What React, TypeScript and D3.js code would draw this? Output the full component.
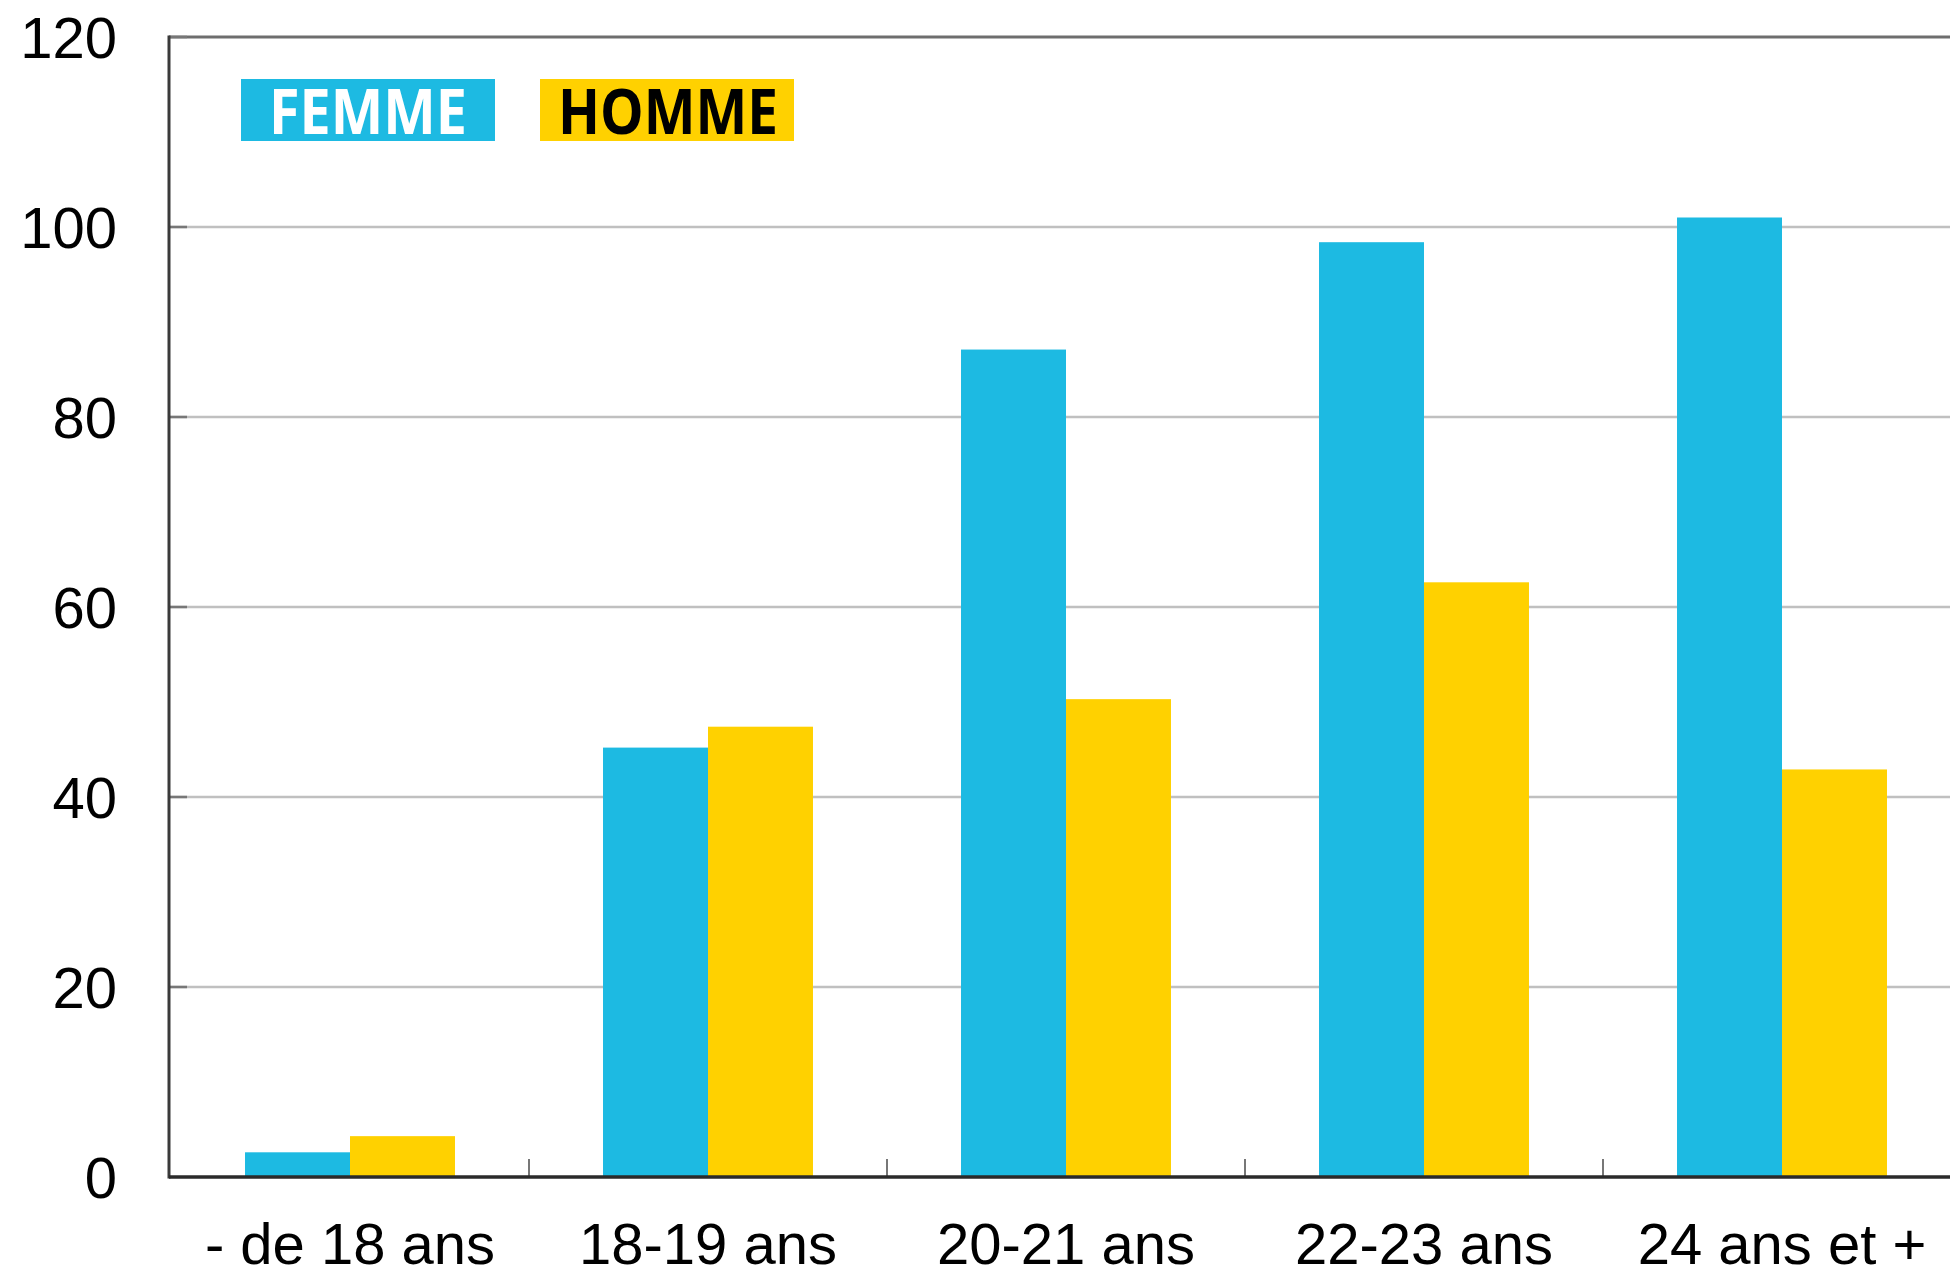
import React from "react";
import * as d3 from "d3";

const categories = ["- de 18 ans", "18-19 ans", "20-21 ans", "22-23 ans", "24 ans et +"];
const seriesNames = ["FEMME", "HOMME"];
const femme = [2.6, 45.2, 87.1, 98.4, 101.0];
const homme = [4.3, 47.4, 50.3, 62.6, 42.9];
const yTicks = [0, 20, 40, 60, 80, 100, 120];

const W = 1950;
const H = 1275;
const left = 169;
const step = 358;
const top = 37;
const bottom = 1177;
const BLUE = "#1DBAE2";
const YELLOW = "#FFD100";

export default function App() {
  const x0 = d3.scaleBand<string>().domain(categories).range([left + 2, left + 2 + step * categories.length]).paddingInner(0).paddingOuter(0);
  const x1 = d3.scaleBand<string>().domain(seriesNames).range([0, x0.bandwidth()]).paddingInner(0).paddingOuter(0.705);
  const y = d3.scaleLinear().domain([0, 120]).range([bottom, top]);
  const colors: Record<string, string> = { FEMME: BLUE, HOMME: YELLOW };
  const values: Record<string, number[]> = { FEMME: femme, HOMME: homme };
  const font = "'Liberation Sans', Arial, sans-serif";

  return (
    <svg width={W} height={H} style={{ position: "absolute", left: 0, top: 0, background: "#fff" }}>
      {yTicks.filter((t) => t > 0 && t < 120).map((t) => (
        <line key={"g" + t} x1={left} x2={W} y1={y(t)} y2={y(t)} stroke="#c0c0c0" strokeWidth={2.5} />
      ))}
      <line x1={left} x2={W} y1={y(120)} y2={y(120)} stroke="#6e6e6e" strokeWidth={3} />
      {yTicks.filter((t) => t > 0).map((t) => (
        <line key={"yt" + t} x1={left} x2={left + 18} y1={y(t)} y2={y(t)} stroke="#777" strokeWidth={2.5} />
      ))}
      {categories.map((c, i) => (
        <g key={c} transform={`translate(${x0(c)},0)`}>
          {seriesNames.map((s) => (
            <rect
              key={s}
              x={x1(s)}
              y={y(values[s][i])}
              width={x1.bandwidth()}
              height={y(0) - y(values[s][i])}
              fill={colors[s]}
            />
          ))}
        </g>
      ))}
      {categories.slice(1).map((c) => (
        <line key={"xt" + c} x1={x0(c)} x2={x0(c)} y1={bottom} y2={bottom - 18} stroke="#777" strokeWidth={2} />
      ))}
      <line x1={left} x2={left} y1={top - 1.5} y2={bottom + 1.5} stroke="#3a3a3a" strokeWidth={3} />
      <line x1={left} x2={W} y1={bottom} y2={bottom} stroke="#2a2a2a" strokeWidth={3.5} />
      {yTicks.map((t) => (
        <text key={"yl" + t} x={117} y={y(t)} textAnchor="end" dominantBaseline="central" fontFamily={font} fontSize={58} fill="#000">
          {t}
        </text>
      ))}
      {categories.map((c) => (
        <text key={"xl" + c} x={(x0(c) as number) + x0.bandwidth() / 2} y={1264} textAnchor="middle" fontFamily={font} fontSize={58} fill="#000">
          {c}
        </text>
      ))}
      <rect x={241} y={79} width={254} height={62} fill={BLUE} />
      <text x={368} y={134} textAnchor="middle" fontFamily="'Open Sans', sans-serif" fontWeight={700} fontSize={62} fill="#fff" textLength={198} lengthAdjust="spacingAndGlyphs">
        FEMME
      </text>
      <rect x={540} y={79} width={254} height={62} fill={YELLOW} />
      <text x={668} y={134} textAnchor="middle" fontFamily="'Open Sans', sans-serif" fontWeight={700} fontSize={62} fill="#000" textLength={220} lengthAdjust="spacingAndGlyphs">
        HOMME
      </text>
    </svg>
  );
}
